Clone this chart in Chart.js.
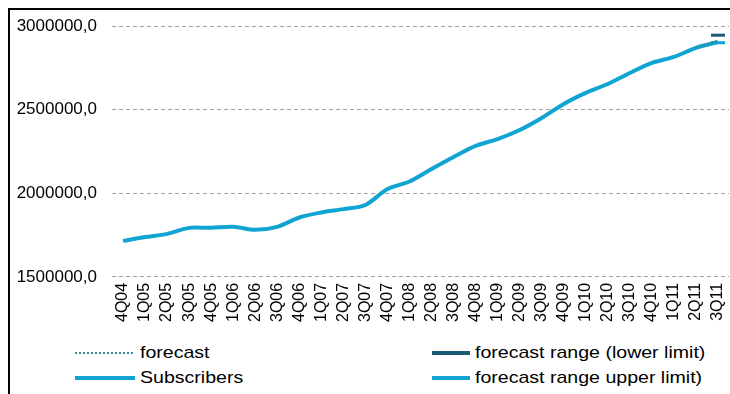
<!DOCTYPE html>
<html>
<head>
<meta charset="utf-8">
<script src="https://cdn.jsdelivr.net/npm/chart.js@4/dist/chart.umd.min.js"></script>
<style>
  html, body { margin: 0; padding: 0; background: #fff; }
  body { width: 730px; height: 394px; position: relative; overflow: hidden; font-family: "Liberation Sans", Arial, sans-serif; }
  #frame { position: absolute; left: 8px; top: 8px; right: -10px; bottom: -10px; border-left: 2px solid #000; border-top: 2px solid #000; }
  #wrap { position: absolute; left: 0; top: 0; width: 730px; height: 330px; }
  .leg { position: absolute; display: flex; align-items: center; font-size: 17px; color: #000; white-space: nowrap; }
  .leg canvas { margin-right: 5px; }
  .leg span { display: inline-block; transform: scaleX(1.15); transform-origin: left center; }
</style>
</head>
<body>
<div id="frame"></div>
<div id="wrap"><canvas id="line-chart"></canvas></div>
<div id="legend"></div>
<script>
const quarters = ["4Q04","1Q05","2Q05","3Q05","4Q05","1Q06","2Q06","3Q06","4Q06","1Q07","2Q07","3Q07","4Q07","1Q08",
  "2Q08","3Q08","4Q08","1Q09","2Q09","3Q09","4Q09","1Q10","2Q10","3Q10","4Q10","1Q11","2Q11","3Q11"];

const subscribers = [1715000,1738000,1757000,1793000,1793000,1799000,1781000,1799000,1855000,1885000,1905000,1930000,
  2025000,2070000,2145000,2217000,2283000,2324000,2378000,2450000,2534000,2600000,2653000,2719000,2779000,2815000,2869000,2904000];

// forecast only exists at the very end
const forecast = [...Array(26).fill(null), 2869000, 2912000];
const lowerLimit = [...Array(27).fill(null), 2945000];
const upperLimit = [...Array(27).fill(null), 2900000];

const yTicks = [1500000, 2000000, 2500000, 3000000];

const lightBlue = '#10a4d2';
const darkTeal = '#1a5a72';

const datasets = [
  { label: 'forecast', data: forecast, borderColor: '#3b8a9a', borderWidth: 2, borderDash: [2, 2], pointRadius: 0, fill: false },
  { label: 'forecast range (lower limit)', data: lowerLimit, borderColor: darkTeal, backgroundColor: darkTeal, borderWidth: 3,
    pointStyle: 'line', pointRadius: 7, pointBorderWidth: 3 },
  { label: 'Subscribers', data: subscribers, borderColor: lightBlue, borderWidth: 4, pointRadius: 0, tension: 0.3, fill: false },
  { label: 'forecast range upper limit)', data: upperLimit, borderColor: lightBlue, backgroundColor: lightBlue, borderWidth: 3,
    pointStyle: 'line', pointRadius: 7, pointBorderWidth: 3 }
];

const config = {
  type: 'line',
  data: { labels: quarters, datasets: datasets },
  options: {
    responsive: false,
    animation: false,
    clip: false,
    layout: { autoPadding: false, padding: { left: 0, right: 1, top: 26, bottom: 0 } },
    plugins: { legend: { display: false }, tooltip: { enabled: false } },
    scales: {
      x: {
        offset: true,
        grid: { display: false, drawTicks: false },
        border: { display: false },
        ticks: { color: '#000', font: { family: 'Liberation Sans', size: 16 }, maxRotation: 90, minRotation: 90, autoSkip: false, padding: 6 },
        afterFit: axis => { axis.paddingRight = 0; axis.paddingLeft = 0; }
      },
      y: {
        min: 1500000, max: 3000000,
        afterBuildTicks: axis => { axis.ticks = yTicks.map(v => ({ value: v })); },
        grid: { color: '#a0a0a0', lineWidth: 1, drawTicks: false },
        border: { display: false, dash: [4, 3] },
        ticks: {
          color: '#000', padding: 15, font: { family: 'Liberation Sans', size: 17 },
          callback: v => v.toFixed(1).replace('.', ',')
        },
        afterFit: axis => { axis.width = 112; }
      }
    }
  }
};

const cv = document.getElementById('line-chart');
cv.width = 730; cv.height = 328;
new Chart(cv.getContext('2d'), config);

// html legend, two columns like the original
const legPos = [
  { ds: 0, x: 75, y: 353, w: 60 },
  { ds: 1, x: 432, y: 353, w: 38 },
  { ds: 2, x: 75, y: 378, w: 60 },
  { ds: 3, x: 432, y: 378, w: 38 }
];
const legend = document.getElementById('legend');
legPos.forEach(p => {
  const d = datasets[p.ds];
  const item = document.createElement('div');
  item.className = 'leg';
  item.style.left = p.x + 'px';
  item.style.top = (p.y - 10) + 'px';
  item.style.height = '20px';
  const s = document.createElement('canvas');
  s.width = p.w; s.height = 10;
  const c = s.getContext('2d');
  c.strokeStyle = d.borderColor;
  c.lineWidth = d.borderDash ? 2 : 4;
  if (d.borderDash) c.setLineDash(d.borderDash);
  c.beginPath(); c.moveTo(0, 5); c.lineTo(p.w, 5); c.stroke();
  item.appendChild(s);
  const t = document.createElement('span');
  t.textContent = d.label;
  item.appendChild(t);
  legend.appendChild(item);
});
</script>
</body>
</html>
